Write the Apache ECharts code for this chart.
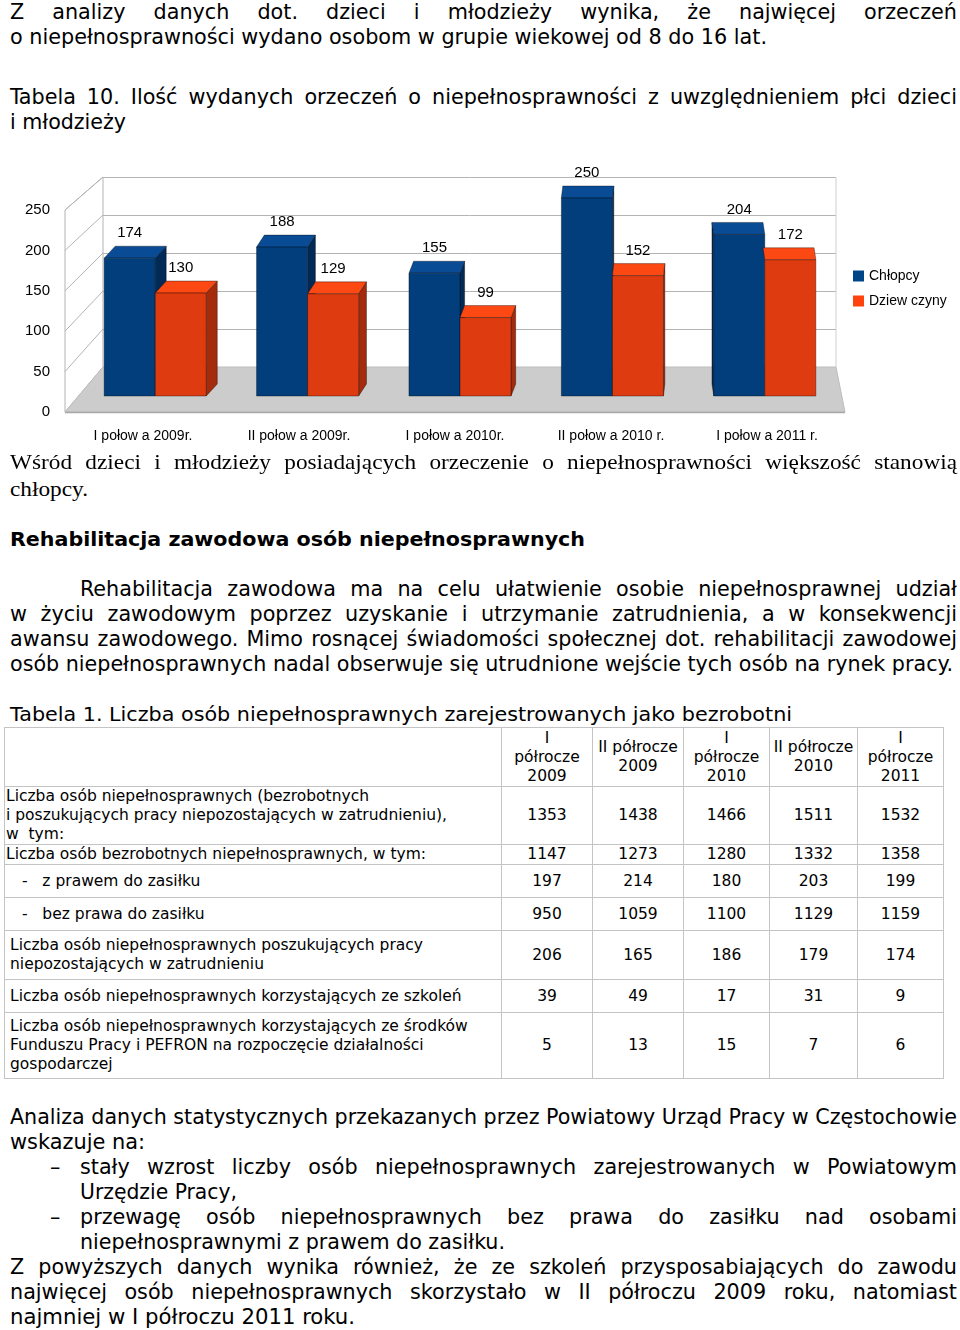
<!DOCTYPE html>
<html><head><meta charset="utf-8">
<script src="https://cdn.jsdelivr.net/npm/echarts@6/dist/echarts.min.js"></script>
<style>
html,body{margin:0;padding:0;background:#fff;}
body{width:960px;height:1330px;position:relative;overflow:hidden;color:#000;}
.ln{position:absolute;white-space:pre;transform-origin:0 50%;}
.sans{font-family:"DejaVu Sans Condensed","DejaVu Sans",sans-serif;font-size:21px;line-height:25px;}
.serif{font-family:"Liberation Serif","DejaVu Serif",serif;font-size:22px;line-height:27px;}
.bold{font-family:"DejaVu Sans Condensed","DejaVu Sans",sans-serif;font-size:20px;line-height:25px;font-weight:bold;}
.tab{font-family:"DejaVu Sans",sans-serif;font-size:20px;line-height:25px;}
#chart{position:absolute;left:0;top:150px;width:960px;height:300px;}
table{position:absolute;left:4px;top:727px;border-collapse:collapse;table-layout:fixed;font-family:"DejaVu Sans",sans-serif;font-size:15.5px;line-height:19px;}
td{border:1px solid #c4c4c4;padding:0;vertical-align:middle;white-space:pre;overflow:hidden;}
td.v{text-align:center;}
</style></head>
<body>
<div id="chart"></div>
<script>
// ---------- chart data ----------
const categories = ['I połow a 2009r.', 'II połow a 2009r.', 'I połow a 2010r.', 'II połow a 2010 r.', 'I połow a 2011 r.'];
const chlopcy = [174, 188, 155, 250, 204];
const dziewczyny = [130, 129, 99, 152, 172];
const seriesNames = ['Chłopcy', 'Dziew czyny'];

// ---------- table data ----------
const colHeaders = ['I\npółrocze\n2009', 'II półrocze\n2009', 'I\npółrocze\n2010', 'II półrocze\n2010', 'I\npółrocze\n2011'];
const rowLabels = [
  'Liczba osób niepełnosprawnych (bezrobotnych\ni poszukujących pracy niepozostających w zatrudnieniu),\nw  tym:',
  'Liczba osób bezrobotnych niepełnosprawnych, w tym:',
  '-   z prawem do zasiłku',
  '-   bez prawa do zasiłku',
  'Liczba osób niepełnosprawnych poszukujących pracy\nniepozostających w zatrudnieniu',
  'Liczba osób niepełnosprawnych korzystających ze szkoleń',
  'Liczba osób niepełnosprawnych korzystających ze środków\nFunduszu Pracy i PEFRON na rozpoczęcie działalności\ngospodarczej'
];
const rowNiepelnosprawni = [1353, 1438, 1466, 1511, 1532];
const rowBezrobotni = [1147, 1273, 1280, 1332, 1358];
const rowZPrawem = [197, 214, 180, 203, 199];
const rowBezPrawa = [950, 1059, 1100, 1129, 1159];
const rowPoszukujacy = [206, 165, 186, 179, 174];
const rowSzkolenia = [39, 49, 17, 31, 9];
const rowSrodki = [5, 13, 15, 7, 6];

// ---------- text lines (layout) ----------
const lines = [
  {t:'Z analizy danych dot. dzieci i młodzieży wynika, że najwięcej orzeczeń', f:'sans', x:10, x1:957, y:12, j:1},
  {t:'o niepełnosprawności wydano osobom w grupie wiekowej od 8 do 16 lat.', f:'sans', x:10, x1:767, y:37},
  {t:'Tabela 10. Ilość wydanych orzeczeń o niepełnosprawności z uwzględnieniem płci dzieci', f:'sans', x:10, x1:957, y:97, j:1},
  {t:'i młodzieży', f:'sans', x:10, x1:126, y:122},
  {t:'Wśród dzieci i młodzieży posiadających orzeczenie o niepełnosprawności większość stanowią', f:'serif', x:10, x1:957, y:461, j:1},
  {t:'chłopcy.', f:'serif', x:10, x1:88, y:488},
  {t:'Rehabilitacja zawodowa osób niepełnosprawnych', f:'bold', x:10, x1:585, y:539},
  {t:'Rehabilitacja zawodowa ma na celu ułatwienie osobie niepełnosprawnej udział', f:'sans', x:80, x1:957, y:589, j:1},
  {t:'w życiu zawodowym poprzez uzyskanie i utrzymanie zatrudnienia, a w konsekwencji', f:'sans', x:10, x1:957, y:614, j:1},
  {t:'awansu zawodowego. Mimo rosnącej świadomości społecznej dot. rehabilitacji zawodowej', f:'sans', x:10, x1:957, y:639, j:1},
  {t:'osób niepełnosprawnych nadal obserwuje się utrudnione wejście tych osób na rynek pracy.', f:'sans', x:10, x1:953, y:664},
  {t:'Tabela 1. Liczba osób niepełnosprawnych zarejestrowanych jako bezrobotni', f:'tab', x:10, x1:792, y:714},
  {t:'Analiza danych statystycznych przekazanych przez Powiatowy Urząd Pracy w Częstochowie', f:'sans', x:10, x1:957, y:1117, j:1},
  {t:'wskazuje na:', f:'sans', x:10, x1:145, y:1142},
  {t:'–', f:'sans', x:50, y:1167},
  {t:'stały wzrost liczby osób niepełnosprawnych zarejestrowanych w Powiatowym', f:'sans', x:80, x1:957, y:1167, j:1},
  {t:'Urzędzie Pracy,', f:'sans', x:80, x1:237, y:1192},
  {t:'–', f:'sans', x:50, y:1217},
  {t:'przewagę osób niepełnosprawnych bez prawa do zasiłku nad osobami', f:'sans', x:80, x1:957, y:1217, j:1},
  {t:'niepełnosprawnymi z prawem do zasiłku.', f:'sans', x:80, x1:505, y:1242},
  {t:'Z powyższych danych wynika również, że ze szkoleń przysposabiających do zawodu', f:'sans', x:10, x1:957, y:1267, j:1},
  {t:'najwięcej osób niepełnosprawnych skorzystało w II półroczu 2009 roku, natomiast', f:'sans', x:10, x1:957, y:1292, j:1},
  {t:'najmniej w I półroczu 2011 roku.', f:'sans', x:10, x1:355, y:1317}
];
const lineH = {sans:25, serif:27, bold:25, tab:25};

function layoutText(){
  const els = lines.map(L => {
    const d = document.createElement('div');
    d.className = 'ln ' + L.f;
    d.textContent = L.t;
    d.style.left = L.x + 'px';
    d.style.top = (L.y - lineH[L.f] / 2) + 'px';
    document.body.appendChild(d);
    L.nat = d.getBoundingClientRect().width;
    return d;
  });
  const sums = {}, cnt = {};
  lines.forEach(L => {
    if (!L.j && L.x1) {
      L.s = (L.x1 - L.x) / L.nat;
      sums[L.f] = (sums[L.f] || 0) + L.s; cnt[L.f] = (cnt[L.f] || 0) + 1;
    }
  });
  lines.forEach((L, i) => {
    const d = els[i];
    let s = 1, ws = 0;
    if (L.j) {
      s = cnt[L.f] ? sums[L.f] / cnt[L.f] : 1;
      const n = (L.t.match(/ /g) || []).length;
      ws = ((L.x1 - L.x) / s - L.nat) / n;
      if (ws < 0) { ws = 0; s = (L.x1 - L.x) / L.nat; }
    } else if (L.x1) {
      s = L.s;
    } else {
      s = cnt[L.f] ? sums[L.f] / cnt[L.f] : 1;
    }
    d.style.wordSpacing = ws + 'px';
    d.style.transform = 'scaleX(' + s + ')';
  });
}

function buildTable(){
  const colW = [497, 91, 91, 86, 88, 86];
  const rowH = [59, 57, 19, 33, 33, 49, 33, 66];
  const labelPad = ['0 0 0 1px', '0 0 0 1px', '0 0 0 17px', '0 0 0 17px', '0 0 0 5px', '0 0 0 5px', '0 0 0 5px'];
  const rows = [rowNiepelnosprawni, rowBezrobotni, rowZPrawem, rowBezPrawa, rowPoszukujacy, rowSzkolenia, rowSrodki];
  const tbl = document.createElement('table');
  const cg = document.createElement('colgroup');
  colW.forEach(w => { const c = document.createElement('col'); c.style.width = w + 'px'; cg.appendChild(c); });
  tbl.appendChild(cg);
  const hr = document.createElement('tr'); hr.style.height = rowH[0] + 'px';
  hr.appendChild(document.createElement('td'));
  colHeaders.forEach(h => { const td = document.createElement('td'); td.className = 'v'; td.textContent = h; hr.appendChild(td); });
  tbl.appendChild(hr);
  rows.forEach((r, i) => {
    const tr = document.createElement('tr'); tr.style.height = rowH[i + 1] + 'px';
    const lab = document.createElement('td'); lab.textContent = rowLabels[i]; lab.style.padding = labelPad[i];
    tr.appendChild(lab);
    r.forEach(v => { const td = document.createElement('td'); td.className = 'v'; td.textContent = String(v); tr.appendChild(td); });
    tbl.appendChild(tr);
  });
  document.body.appendChild(tbl);
}

// ---------- chart ----------
const COLORS = [
  {front:'#023e7b', top:'#0a4b95', side:'#012a56', legend:'#004586'},
  {front:'#de3b10', top:'#fc4914', side:'#a42b0c', legend:'#ff420e'}
];
const VANISH_X = 680, PERSP = 0.021, DEPTH = 12;
const FONT = '"Liberation Sans", Arial, sans-serif';

function barRenderer(s){
  return function(params, api){
    const i = api.value(0), v = api.value(1);
    const top = api.coord([i, v]), base = api.coord([i, 0]);
    const band = api.size([1, 0])[0];
    const w = band * 0.335;
    const x0 = top[0] - w + s * w;
    const dx = (VANISH_X - top[0]) * PERSP;
    const dy = DEPTH, yT = top[1], yB = base[1];
    const c = COLORS[s];
    const edge = {stroke:'rgba(0,0,0,0.5)', lineWidth:0.7};
    const kids = [];
    if (dx > 0.5) {
      kids.push({type:'polygon', shape:{points:[[x0+w,yT],[x0+w+dx,yT-dy],[x0+w+dx,yB-dy],[x0+w,yB]]}, style:Object.assign({fill:c.side}, edge)});
    } else if (dx < -0.5 && s === 0) {
      kids.push({type:'polygon', shape:{points:[[x0,yT],[x0+dx,yT-dy],[x0+dx,yB-dy],[x0,yB]]}, style:Object.assign({fill:c.side}, edge)});
    }
    kids.push({type:'polygon', shape:{points:[[x0,yT],[x0+w,yT],[x0+w+dx,yT-dy],[x0+dx,yT-dy]]}, style:Object.assign({fill:c.top}, edge)});
    kids.push({type:'rect', shape:{x:x0, y:yT, width:w, height:yB-yT}, style:Object.assign({fill:c.front}, edge)});
    kids.push({type:'text', x:x0 + w/2, y:yT - dy - 13, style:{text:String(v), fill:'#000', font:'15px ' + FONT, align:'center', verticalAlign:'middle'}});
    return {type:'group', children:kids};
  };
}

function buildChart(){
  const chart = echarts.init(document.getElementById('chart'), null, {renderer:'canvas'});
  const hidden = {axisLine:{show:false}, axisTick:{show:false}, axisLabel:{show:false}, splitLine:{show:false}};
  const option = {
    animation:false,
    grid:[
      {left:79, top:48, width:762, height:198},
      {left:65, top:60, width:780, height:202},
      {left:103, top:27, width:733, height:190}
    ],
    xAxis:[
      Object.assign({type:'category', gridIndex:0, data:categories}, hidden),
      {type:'category', gridIndex:1, data:categories, axisLine:{show:false}, axisTick:{show:false},
        axisLabel:{show:true, interval:0, margin:17, fontSize:14, fontFamily:FONT, color:'#000'}, splitLine:{show:false}},
      Object.assign({type:'category', gridIndex:2, data:categories}, hidden)
    ],
    yAxis:[
      Object.assign({type:'value', gridIndex:0, min:0, max:250, interval:50}, hidden),
      {type:'value', gridIndex:1, min:0, max:250, interval:50, axisLine:{show:false}, axisTick:{show:false},
        axisLabel:{show:true, margin:15, fontSize:15, fontFamily:FONT, color:'#000'}, splitLine:{show:false}},
      {type:'value', gridIndex:2, min:0, max:250, interval:50, axisLine:{show:false}, axisTick:{show:false},
        axisLabel:{show:false}, splitLine:{show:true, lineStyle:{color:'#b4b4b4', width:1}}}
    ],
    legend:{
      orient:'vertical', left:848, top:114, itemWidth:11, itemHeight:11, itemGap:11, icon:'rect',
      textStyle:{fontSize:14, fontFamily:FONT, color:'#000'},
      data:[{name:seriesNames[0], itemStyle:{color:COLORS[0].legend}}, {name:seriesNames[1], itemStyle:{color:COLORS[1].legend}}]
    },
    series:[
      {type:'custom', name:seriesNames[0], xAxisIndex:0, yAxisIndex:0, z:5, itemStyle:{color:COLORS[0].legend},
        renderItem:barRenderer(0), encode:{x:0, y:1}, data:chlopcy.map((v, i) => [i, v])},
      {type:'custom', name:seriesNames[1], xAxisIndex:0, yAxisIndex:0, z:6, itemStyle:{color:COLORS[1].legend},
        renderItem:barRenderer(1), encode:{x:0, y:1}, data:dziewczyny.map((v, i) => [i, v])}
    ]
  };
  chart.setOption(option);

  // walls and floor from the front and back planes
  const n = categories.length;
  const edges = (axisIdx) => {
    const c0 = chart.convertToPixel({xAxisIndex:axisIdx}, 0);
    const c1 = chart.convertToPixel({xAxisIndex:axisIdx}, 1);
    const cl = chart.convertToPixel({xAxisIndex:axisIdx}, n - 1);
    const b = c1 - c0;
    return [c0 - b/2, cl + b/2];
  };
  const fy = v => chart.convertToPixel({yAxisIndex:1}, v);
  const by = v => chart.convertToPixel({yAxisIndex:2}, v);
  const [fL, fR] = edges(1), [bL, bR] = edges(2);
  const ticks = [50, 100, 150, 200, 250];
  const g = [];
  g.push({type:'polygon', z:0, shape:{points:[[fL,fy(0)],[fL,fy(250)],[bL,by(250)],[bL,by(0)]]}, style:{fill:'#fff', stroke:'#b4b4b4', lineWidth:1}});
  ticks.forEach(t => g.push({type:'line', z:0, shape:{x1:fL, y1:fy(t), x2:bL, y2:by(t)}, style:{stroke:'#b4b4b4', lineWidth:1}}));
  g.push({type:'line', z:0, shape:{x1:bR, y1:by(0), x2:bR, y2:by(250)}, style:{stroke:'#d0d0d0', lineWidth:1}});
  g.push({type:'polygon', z:0, shape:{points:[[fL,fy(0)],[fR,fy(0)],[bR,by(0)],[bL,by(0)]]}, style:{fill:'#cccccc', stroke:'#bdbdbd', lineWidth:1}});
  g.push({type:'line', z:0, shape:{x1:fL, y1:fy(0)+0.5, x2:fR, y2:fy(0)+0.5}, style:{stroke:'#a8a8a8', lineWidth:1.5}});
  chart.setOption({graphic:{elements:g}});
}

buildTable();
buildChart();
(document.fonts && document.fonts.ready ? document.fonts.ready : Promise.resolve()).then(layoutText);
</script>
</body></html>
